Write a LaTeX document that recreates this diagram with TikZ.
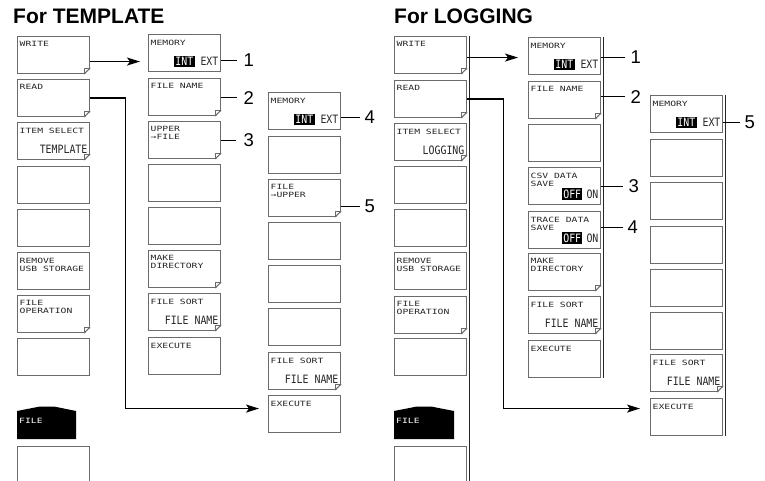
\documentclass[tikz,border=0pt]{standalone}
\usepackage{fontspec}
\setmainfont{Liberation Sans}
\newfontfamily\lblfont[FakeStretch=1.35]{DejaVu Sans Mono}
\newfontfamily\valfont[FakeStretch=0.86]{DejaVu Sans Mono}
\usetikzlibrary{arrows.meta}
\definecolor{boxgray}{gray}{0.42}
\definecolor{txtgray}{gray}{0.15}
\newcommand\inv[1]{{\setlength{\fboxsep}{1.3pt}\colorbox{black}{\textcolor{white}{#1}}}}
\newcommand\fld[1]{%
  \fill[white] ([xshift=-6pt,yshift=-1pt]#1.south east) -- ([xshift=1pt,yshift=-1pt]#1.south east) -- ([xshift=1pt,yshift=6pt]#1.south east) -- cycle;
  \draw[boxgray,line width=1.1pt] ([xshift=-6pt]#1.south east) -- ([yshift=6pt]#1.south east);
  \draw[boxgray,line width=0.7pt] ([xshift=-6pt]#1.south east) -- ([xshift=-6pt,yshift=6pt]#1.south east) -- ([yshift=6pt]#1.south east);
}
\tikzset{
  btn/.style={draw=boxgray, line width=1.1pt, fill=white, rectangle, minimum width=72pt, minimum height=37pt, inner sep=0pt, anchor=north west},
  lblst/.style={anchor=north west, inner sep=0pt, xshift=2.5pt, yshift=-5.5pt, align=left, text=txtgray, font=\lblfont\fontsize{7.2}{8}\selectfont},
  lab/.style={label={[lblst]north west:#1}},
  valst/.style={anchor=east, inner sep=0pt, xshift=-2.5pt, yshift=11pt, text=txtgray, font=\valfont\fontsize{11.5}{13}\selectfont},
  val/.style={label={[valst]south east:#1}},
  conn/.style={draw=black, line width=1.2pt},
  arr/.style={conn, -{Stealth[length=13pt,width=8pt,inset=3pt]}},
  cl/.style={draw=black, line width=1pt},
  num/.style={anchor=west, inner sep=0pt, font=\fontsize{18.5}{18.5}\selectfont},
  bar/.style={draw=black!85, line width=1.2pt},
  ttl/.style={anchor=base west, inner sep=0pt, font=\bfseries\fontsize{21}{21}\selectfont},
  tabtxt/.style={anchor=west, inner sep=0pt, text=white, font=\lblfont\fontsize{7.2}{8}\selectfont},
}
\begin{document}
\begin{tikzpicture}[x=1pt,y=-1pt]
\useasboundingbox (0,0) rectangle (765,481);
\fill[white] (0,0) rectangle (765,481);
\begin{scope}
\clip (0,0) rectangle (765,481);
% titles
\node[ttl] (t1) at (13,24) {For TEMPLATE};
\node[ttl] (t2) at (394,24) {For LOGGING};

% ===== TEMPLATE column 1
\node[btn, lab=WRITE] (a1) at (17,36) {};
\node[btn, lab=READ] (a2) at (17,79) {};
\node[btn, lab=ITEM SELECT, val=TEMPLATE] (a3) at (17,122) {};
\node[btn] (a4) at (17,166) {};
\node[btn] (a5) at (17,209) {};
\node[btn, lab=REMOVE\\USB STORAGE] (a6) at (17,252) {};
\node[btn, lab=FILE\\OPERATION] (a7) at (17,295) {};
\node[btn] (a8) at (17,338) {};
\fill[black] (17,439) -- (17,411) -- (40,406.5) -- (54,406.5) -- (76,411) -- (76,439) -- cycle;
\node[tabtxt] (ft1) at (19,421) {FILE};
\node[btn] (a9) at (17,446) {};
\fld{a1}\fld{a2}\fld{a3}\fld{a7}

% ===== TEMPLATE column 2
\node[btn, lab=MEMORY, val={\inv{INT}\hspace{6pt}EXT}] (b1) at (148,34) {};
\node[btn, lab=FILE NAME] (b2) at (148,78) {};
\node[btn, lab=UPPER\\→FILE] (b3) at (148,121) {};
\node[btn] (b4) at (148,164) {};
\node[btn] (b5) at (148,207) {};
\node[btn, lab=MAKE\\DIRECTORY] (b6) at (148,250) {};
\node[btn, lab=FILE SORT, val=FILE NAME] (b7) at (148,293) {};
\node[btn, lab=EXECUTE] (b8) at (148,337) {};
\fld{b2}\fld{b3}\fld{b6}\fld{b7}

% ===== TEMPLATE column 3
\node[btn, lab=MEMORY, val={\inv{INT}\hspace{6pt}EXT}] (c1) at (268,92) {};
\node[btn] (c2) at (268,136) {};
\node[btn, lab=FILE\\→UPPER] (c3) at (268,179) {};
\node[btn] (c4) at (268,222) {};
\node[btn] (c5) at (268,265) {};
\node[btn] (c6) at (268,308) {};
\node[btn, lab=FILE SORT, val=FILE NAME] (c7) at (268,352) {};
\node[btn, lab=EXECUTE] (c8) at (268,395) {};
\fld{c3}\fld{c7}

% ===== LOGGING column 1
\node[btn, lab=WRITE] (d1) at (394,36) {};
\node[btn, lab=READ] (d2) at (394,80) {};
\node[btn, lab=ITEM SELECT, val=LOGGING] (d3) at (394,123) {};
\node[btn] (d4) at (394,166) {};
\node[btn] (d5) at (394,209) {};
\node[btn, lab=REMOVE\\USB STORAGE] (d6) at (394,252) {};
\node[btn, lab=FILE\\OPERATION] (d7) at (394,296) {};
\node[btn] (d8) at (394,338) {};
\fill[black] (394,439) -- (394,411) -- (417,406.5) -- (431,406.5) -- (454,411) -- (454,439) -- cycle;
\node[tabtxt] (ft2) at (396,421) {FILE};
\node[btn] (d9) at (394,446) {};
\fld{d1}\fld{d2}\fld{d3}\fld{d7}
\draw[bar] ([xshift=2pt]d1.north east) -- ([xshift=2pt]d9.south east);

% ===== LOGGING column 2
\node[btn, lab=MEMORY, val={\inv{INT}\hspace{6pt}EXT}] (e1) at (528,37) {};
\node[btn, lab=FILE NAME] (e2) at (528,81) {};
\node[btn] (e3) at (528,124) {};
\node[btn, lab=CSV DATA\\SAVE, val={\inv{OFF}\hspace{4pt}ON}] (e4) at (528,167) {};
\node[btn, lab=TRACE DATA\\SAVE, val={\inv{OFF}\hspace{4pt}ON}] (e5) at (528,211) {};
\node[btn, lab=MAKE\\DIRECTORY] (e6) at (528,253) {};
\node[btn, lab=FILE SORT, val=FILE NAME] (e7) at (528,296) {};
\node[btn, lab=EXECUTE] (e8) at (528,340) {};
\fld{e2}\fld{e6}\fld{e7}
\draw[bar] ([xshift=2pt]e1.north east) -- ([xshift=2pt]e8.south east);

% ===== LOGGING column 3
\node[btn, lab=MEMORY, val={\inv{INT}\hspace{6pt}EXT}] (f1) at (650,95) {};
\node[btn] (f2) at (650,139) {};
\node[btn] (f3) at (650,182) {};
\node[btn] (f4) at (650,226) {};
\node[btn] (f5) at (650,269) {};
\node[btn] (f6) at (650,312) {};
\node[btn, lab=FILE SORT, val=FILE NAME] (f7) at (650,354) {};
\node[btn, lab=EXECUTE] (f8) at (650,398) {};
\fld{f7}
\draw[bar] ([xshift=2pt]f1.north east) -- ([xshift=2pt]f8.south east);

% ===== connectors
\draw[arr, shorten >=8pt] ([yshift=-6.5pt]a1.east) -- ([yshift=-6.5pt]a1.east -| b1.west);
\draw[arr, shorten >=9pt] (a2.east) -- ++(35,0) |- ([yshift=5.5pt]c8.west);
\draw[arr, shorten >=10pt] ([yshift=-2.5pt]d1.east) -- ([yshift=-2.5pt]d1.east -| e1.west);
\draw[arr, shorten >=10pt] (d2.east) -- ++(36,0) |- ([yshift=8.5pt]f8.west);

% ===== callouts
\draw[cl] ([yshift=-7.5pt]b1.east) -- ++(16,0) node[num, xshift=6pt] (n1) {1};
\draw[cl] ([yshift=-0.5pt]b2.east) -- ++(16,0) node[num, xshift=6pt] (n2) {2};
\draw[cl] (b3.east) -- ++(15,0) node[num, xshift=7pt] (n3) {3};
\draw[cl] ([yshift=-6.5pt]c1.east) -- ++(19,0) node[num, xshift=4pt] (n4) {4};
\draw[cl] ([yshift=-8.5pt]c3.east) -- ++(19,0) node[num, xshift=4pt] (n5) {5};

\draw[cl] ([yshift=-1.5pt]e1.east) -- ++(24,0) node[num, xshift=5pt] (m1) {1};
\draw[cl] ([yshift=3.5pt]e2.east) -- ++(24,0) node[num, xshift=5pt] (m2) {2};
\draw[cl] ([yshift=-0.5pt]e4.east) -- ++(22,0) node[num, xshift=5pt] (m3) {3};
\draw[cl] ([yshift=2.5pt]e5.east) -- ++(22,0) node[num, xshift=4pt] (m4) {4};
\draw[cl] ([yshift=-8.5pt]f1.east) -- ++(17,0) node[num, xshift=4pt] (m5) {5};
\end{scope}
\end{tikzpicture}
\end{document}
